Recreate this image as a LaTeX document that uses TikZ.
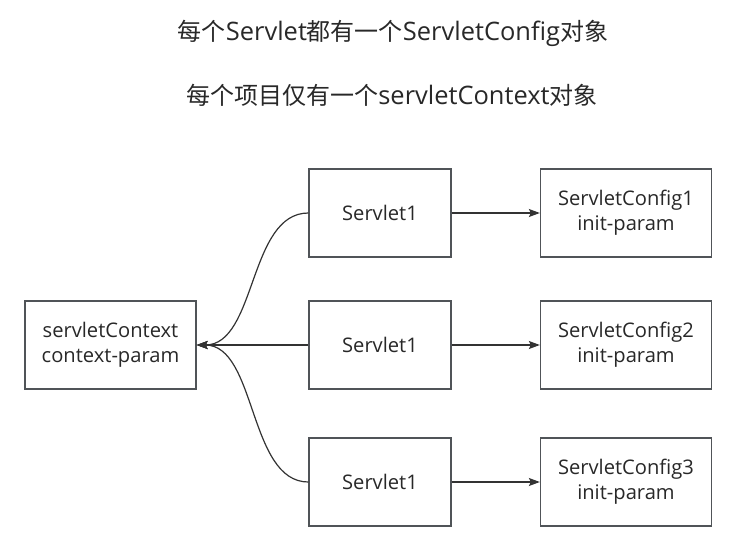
\documentclass[tikz,border=0pt]{standalone}
\usepackage{fontspec}
\setmainfont{Open Sans}[Scale=1.06]
\newfontfamily\cjk{Noto Sans CJK SC}
\usetikzlibrary{arrows.meta}
\definecolor{boxcol}{RGB}{80,84,88}
\definecolor{linecol}{RGB}{51,51,51}
\definecolor{txtcol}{RGB}{40,40,40}
\tikzset{
  box/.style={draw=boxcol, line width=1.3pt, fill=white, minimum height=88pt, align=center, text=txtcol, font=\fontsize{19}{25}\selectfont, inner sep=0pt},
  wbox/.style={box, minimum width=171pt},
  nbox/.style={box, minimum width=142pt},
  arr/.style={draw=linecol, line width=1.2pt, -{Stealth[length=11pt,width=8pt,inset=2pt]}},
  title/.style={text=txtcol, font=\fontsize{24}{28}\selectfont, inner sep=0pt}
}
\begin{document}
\begin{tikzpicture}[x=1pt,y=-1pt]
\useasboundingbox (0,0) rectangle (737,552);
\node[title] (t1) at (393,33) {{\cjk 每个}Servlet{\cjk 都有一个}ServletConfig{\cjk 对象}};
\node[title] (t2) at (392,95) {{\cjk 每个项目仅有一个}servletContext{\cjk 对象}};
\node[wbox] (ctx) at (110.5,345) {servletContext\\context-param};
\node[nbox] (s1) at (380,213) {Servlet1};
\node[nbox] (s2) at (380,345) {Servlet1};
\node[nbox] (s3) at (380,482) {Servlet1};
\node[wbox] (c1) at (626,213) {ServletConfig1\\init-param};
\node[wbox] (c2) at (626,345) {ServletConfig2\\init-param};
\node[wbox] (c3) at (626,482) {ServletConfig3\\init-param};
\draw[arr] (s1.east) -- (c1.west);
\draw[arr] (s2.east) -- (c2.west);
\draw[arr] (s3.east) -- (c3.west);
\draw[arr] (s1.west) .. controls +(-60,0) and +(60,0) .. (ctx.east);
\draw[arr] (s2.west) -- (ctx.east);
\draw[arr] (s3.west) .. controls +(-60,0) and +(60,0) .. (ctx.east);
\end{tikzpicture}
\end{document}
